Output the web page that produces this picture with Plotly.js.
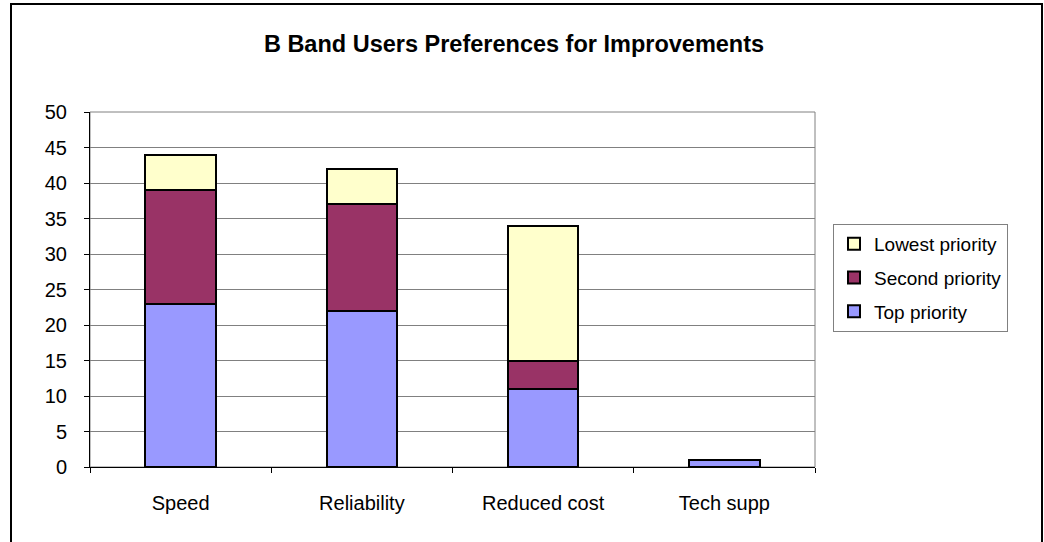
<!DOCTYPE html>
<html>
<head>
<meta charset="utf-8">
<script src="https://cdn.plot.ly/plotly-3.0.1.min.js"></script>
<style>
  html, body { margin: 0; padding: 0; background: #fff; }
  #wrap { position: relative; width: 1044px; height: 542px; overflow: hidden; }
  #chart { position: absolute; left: 0; top: 0; width: 1044px; height: 542px; }
  #frame { position: absolute; left: 10px; top: 3px; width: 1029px; height: 560px; border: 2px solid #000; pointer-events: none; }
</style>
</head>
<body>
<div id="wrap">
  <div id="chart"></div>
  <div id="frame"></div>
</div>
<script>
const categories = ["Speed", "Reliability", "Reduced cost", "Tech supp"];
const topPriority = [23, 22, 11, 1];
const secondPriority = [16, 15, 4, 0];
const lowestPriority = [5, 5, 19, 0];
const yTicks = [0, 5, 10, 15, 20, 25, 30, 35, 40, 45, 50];

const line = { color: "#000", width: 2 };
const traces = [
  { type: "bar", name: "Top priority", x: categories, y: topPriority, legendgroup: "a", legendrank: 3,
    marker: { color: "#9999FF", line: line }, width: 0.39 },
  { type: "bar", name: "Second priority", x: categories, y: secondPriority, legendgroup: "b", legendrank: 2,
    marker: { color: "#993366", line: line }, width: 0.39 },
  { type: "bar", name: "Lowest priority", x: categories, y: lowestPriority, legendgroup: "c", legendrank: 1,
    marker: { color: "#FFFFCC", line: line }, width: 0.39 }
];

const layout = {
  width: 1044, height: 542,
  margin: { l: 90, r: 229, t: 112, b: 75 },
  paper_bgcolor: "#fff", plot_bgcolor: "#fff",
  barmode: "stack",
  font: { family: "Liberation Sans, Arial, sans-serif", color: "#000", size: 20 },
  title: { text: "<b>B Band Users Preferences for Improvements</b>", x: 514 / 1044, xanchor: "center",
           y: 1 - 44 / 542, yanchor: "middle", font: { size: 23.5, color: "#000" } },
  xaxis: { type: "category", showline: true, linecolor: "#000", linewidth: 1,
           ticks: "outside", tickson: "boundaries", ticklen: 5, tickcolor: "#000",
           showgrid: false, tickfont: { size: 20 }, ticklabelstandoff: 18, fixedrange: true },
  yaxis: { range: [0, 50], tickvals: yTicks, ticktext: yTicks.map(String), showline: true,
           linecolor: "#000", linewidth: 1, ticks: "outside", ticklen: 5, tickcolor: "#000",
           showgrid: true, gridcolor: "#808080", gridwidth: 1, zeroline: false,
           tickfont: { size: 20 }, ticklabelstandoff: 13, fixedrange: true },
  legend: { x: (833 - 90) / 725, xanchor: "left", y: (467 - 224) / 355, yanchor: "top",
            traceorder: "grouped", tracegroupgap: 6,
            bordercolor: "#808080", borderwidth: 1, bgcolor: "#fff",
            font: { size: 19, color: "#000" } },
  shapes: [
    { type: "rect", xref: "paper", yref: "paper", x0: 0, x1: 1, y0: 0, y1: 1,
      line: { color: "#808080", width: 1 }, layer: "below" }
  ],
  showlegend: true
};

Plotly.newPlot("chart", traces, layout, { displayModeBar: false, staticPlot: true });
</script>
</body>
</html>
